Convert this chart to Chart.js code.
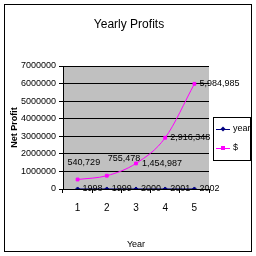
<!DOCTYPE html>
<html>
<head>
<meta charset="utf-8">
<script src="https://cdn.jsdelivr.net/npm/chart.js@4/dist/chart.umd.min.js"></script>
<style>
  html, body { margin: 0; padding: 0; background: #fff; }
  #wrap { width: 256px; height: 256px; }
</style>
</head>
<body>
<div id="wrap"><canvas id="chart" width="256" height="256"></canvas></div>
<script>
// data
const chartTitle = "Yearly Profits";
const categories = ["1", "2", "3", "4", "5"];
const yearValues = [1998, 1999, 2000, 2001, 2002];
const profitValues = [540729, 755478, 1454987, 2916348, 5984985];
const profitLabels = ["540,729", "755,478", "1,454,987", "2,916,348", "5,984,985"];
const yTicks = [0, 1000000, 2000000, 3000000, 4000000, 5000000, 6000000, 7000000];

const FONT = "'Liberation Sans', Arial, sans-serif";

// where the value labels sit relative to their point
const profitOffsets = [[-10, -17], [1, -17], [6, 0], [5, 0], [5, 0]];

const frameAndLabels = {
  id: "frameAndLabels",
  beforeDraw(chart) {
    const ctx = chart.ctx;
    const a = chart.chartArea;
    ctx.save();
    ctx.fillStyle = "#fff";
    ctx.fillRect(0, 0, chart.width, chart.height);
    ctx.fillStyle = "#c0c0c0";
    ctx.fillRect(a.left, a.top, a.right - a.left, a.bottom - a.top);
    ctx.restore();
  },
  afterDatasetsDraw(chart) {
    const ctx = chart.ctx;
    ctx.save();
    ctx.font = "9px " + FONT;
    ctx.fillStyle = "#000";
    ctx.textAlign = "left";
    ctx.textBaseline = "middle";
    chart.getDatasetMeta(0).data.forEach((pt, i) => {
      ctx.fillText(String(yearValues[i]), pt.x + 5, pt.y);
    });
    chart.getDatasetMeta(1).data.forEach((pt, i) => {
      const o = profitOffsets[i];
      ctx.fillText(profitLabels[i], pt.x + o[0], pt.y + o[1]);
    });
    ctx.restore();
  },
  afterDraw(chart) {
    const ctx = chart.ctx;
    ctx.save();
    // title, centred on the whole frame like the original
    ctx.font = "12px " + FONT;
    ctx.fillStyle = "#000";
    ctx.textAlign = "center";
    ctx.textBaseline = "middle";
    ctx.fillText(chartTitle, 129, 25);
    // outer frame
    ctx.strokeStyle = "#000";
    ctx.lineWidth = 1;
    ctx.strokeRect(4.5, 4.5, 247, 247);
    // legend box
    const lx = 213, ly = 117, lw = 37, lh = 43;
    ctx.strokeRect(lx + 0.5, ly + 0.5, lw, lh);
    ctx.font = "9px " + FONT;
    ctx.textBaseline = "middle";
    ctx.textAlign = "left";
    chart.data.datasets.forEach((ds, i) => {
      const y = ly + 12 + i * 19;
      ctx.strokeStyle = ds.borderColor;
      ctx.beginPath();
      ctx.moveTo(lx + 3, y + 0.5);
      ctx.lineTo(lx + 17, y + 0.5);
      ctx.stroke();
      ctx.fillStyle = ds.pointBackgroundColor;
      if (ds.pointStyle === "rect") {
        ctx.fillRect(lx + 8, y - 2, 4, 4);
      } else {
        ctx.beginPath();
        ctx.moveTo(lx + 10, y - 2.5);
        ctx.lineTo(lx + 12.5, y);
        ctx.lineTo(lx + 10, y + 2.5);
        ctx.lineTo(lx + 7.5, y);
        ctx.closePath();
        ctx.fill();
      }
      ctx.fillStyle = "#000";
      ctx.fillText(ds.label, lx + 20, y);
    });
    ctx.restore();
  }
};

new Chart(document.getElementById("chart"), {
  type: "line",
  data: {
    labels: categories,
    datasets: [
      {
        label: "year",
        data: yearValues,
        borderColor: "#000080",
        backgroundColor: "#000080",
        pointBackgroundColor: "#000080",
        pointBorderColor: "#000080",
        pointStyle: "rectRot",
        pointRadius: 2,
        borderWidth: 1,
        tension: 0
      },
      {
        label: "$",
        data: profitValues,
        borderColor: "#ff00ff",
        backgroundColor: "#ff00ff",
        pointBackgroundColor: "#ff00ff",
        pointBorderColor: "#ff00ff",
        pointStyle: "rect",
        pointRadius: 2,
        borderWidth: 1,
        cubicInterpolationMode: "monotone"
      }
    ]
  },
  options: {
    responsive: false,
    animation: false,
    events: [],
    layout: { padding: { left: 9, right: 47, top: 66, bottom: 6 } },
    plugins: {
      legend: { display: false },
      tooltip: { enabled: false },
      title: { display: false }
    },
    scales: {
      x: {
        offset: true,
        grid: { display: true, drawOnChartArea: false, drawTicks: true, tickLength: 4, offset: true, color: "#000" },
        border: { display: true, color: "#000" },
        ticks: { color: "#000", font: { family: FONT, size: 10 }, padding: 9, maxRotation: 0 },
        title: { display: true, text: "Year", color: "#000", font: { family: FONT, size: 9 }, padding: { top: 8, bottom: 0 } },
        afterFit(scale) { scale.height = 61; }
      },
      y: {
        min: 0,
        max: 7000000,
        afterBuildTicks(scale) { scale.ticks = yTicks.map(v => ({ value: v })); },
        grid: { color: "#000", tickLength: 4, drawTicks: true },
        border: { display: true, color: "#000" },
        ticks: { color: "#000", font: { family: FONT, size: 9 }, padding: 3, callback: v => String(v) },
        title: { display: true, text: "Net Profit", color: "#000", font: { family: FONT, size: 9, weight: "bold" }, padding: 0 },
        afterFit(scale) { scale.width = 54; }
      }
    }
  },
  plugins: [frameAndLabels]
});
</script>
</body>
</html>
